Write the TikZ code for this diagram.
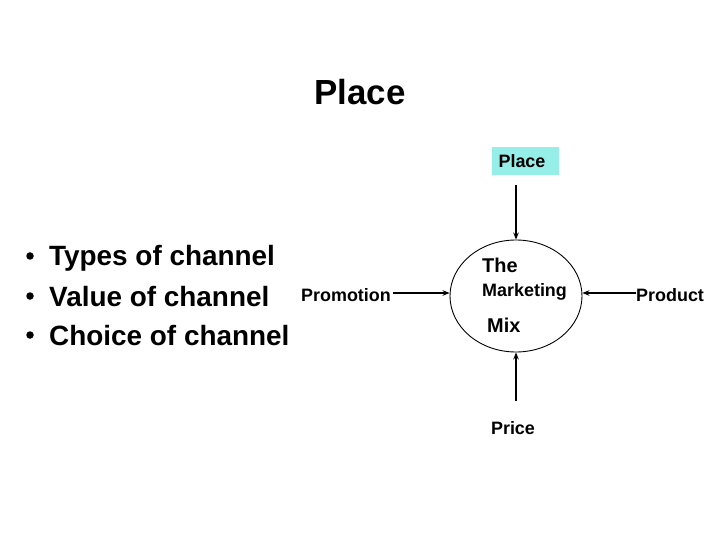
\documentclass[tikz,border=0pt]{standalone}
\usepackage{fontspec}
\setmainfont{Liberation Sans}
\usetikzlibrary{arrows.meta,shapes.geometric}
\definecolor{placecyan}{RGB}{150,238,232}
\tikzset{
  lbl/.style={inner sep=0pt, font=\fontsize{18}{20}\selectfont\bfseries},
  bigl/.style={inner sep=0pt, font=\fontsize{20}{22}\selectfont\bfseries},
  bul/.style={inner sep=0pt, font=\fontsize{28}{32}\selectfont\bfseries},
  dot/.style={circle, fill=black, inner sep=0pt, minimum size=7.5bp},
  conn/.style={line width=1.2pt, -{Stealth[length=7pt,width=5.5pt]}}
}
\begin{document}
\begin{tikzpicture}[x=1bp,y=-1bp]
\useasboundingbox (0,0) rectangle (720,540);
% title
\node[inner sep=0pt, font=\fontsize{35}{40}\selectfont\bfseries, anchor=base] (title) at (360,105) {Place};
% bullets
\node[dot] (b1) at (30,256) {};
\node[bul, anchor=base west] (t1) at (49,266) {Types of channel};
\node[dot] (b2) at (30,296) {};
\node[bul, anchor=base west] (t2) at (49,306) {Value of channel};
\node[dot] (b3) at (30,335) {};
\node[bul, anchor=base west] (t3) at (49,345) {Choice of channel};
% place box
\node[fill=placecyan, minimum width=67bp, minimum height=28bp, inner sep=0pt] (placebox) at (525.5,161) {};
\node[lbl, anchor=base] (placetxt) at (522,167.5) {Place};
% ellipse
\node[draw, ellipse, line width=0.9pt, minimum width=132bp, minimum height=112bp, inner sep=0pt] (mix) at (516,296) {};
\node[bigl, anchor=base west] (the) at (482,273) {The};
\node[lbl, anchor=base west] (mkt) at (482,296.5) {Marketing};
\node[bigl, anchor=base west] (mixt) at (487,332) {Mix};
% side labels
\node[lbl, anchor=base west] (promo) at (301,301.5) {Promotion};
\node[lbl, anchor=base west] (prod) at (636,301.5) {Product};
\node[lbl, anchor=base] (price) at (513,434.5) {Price};
% connector ends
\coordinate (pstart) at (516,185);
\coordinate (prstart) at (393,293);
\coordinate (pdstart) at (636,293);
\coordinate (pcstart) at (516,401);
\draw[conn] (pstart) -- (mix.north);
\draw[conn] (prstart) -- (prstart -| mix.west);
\draw[conn] (pdstart) -- (pdstart -| mix.east);
\draw[conn] (pcstart) -- (mix.south);
\end{tikzpicture}
\end{document}
